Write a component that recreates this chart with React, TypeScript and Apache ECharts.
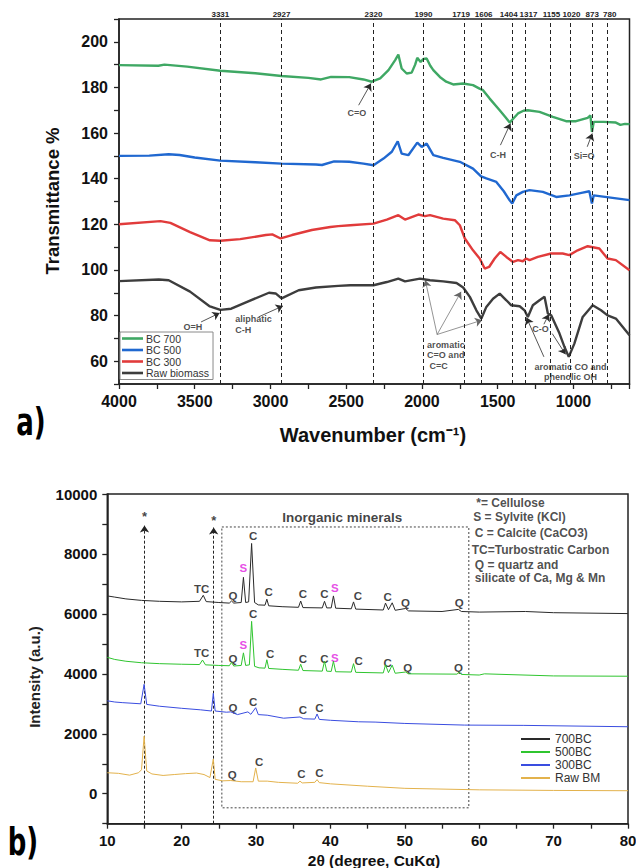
import React, { useEffect, useRef } from "react";
import * as echarts from "echarts";

const FONT = 'Arial, "Liberation Sans", Helvetica, sans-serif';
const NARROW = '"Liberation Sans Narrow", "DejaVu Sans Condensed", Arial, sans-serif';

// ---------- (a) FTIR data ----------
const bc700Wn = [4000, 3740, 3700, 3550, 3331, 3100, 2927, 2750, 2666, 2600, 2480, 2386, 2331, 2276, 2221, 2177, 2156, 2134, 2101, 2068, 2045, 2031, 2009, 1990, 1969, 1945, 1925, 1882, 1840, 1794, 1728, 1663, 1620, 1597, 1553, 1487, 1450, 1421, 1395, 1366, 1330, 1301, 1224, 1136, 1049, 983, 906, 888, 878, 866, 800, 720, 690, 660, 630];
const bc700T = [189.8, 189.5, 190, 189.1, 187.3, 186.2, 185.0, 184.2, 183.5, 184.6, 184.5, 183.5, 182.5, 184, 187.6, 192, 194.4, 188.3, 186.1, 186.5, 190, 193, 191.2, 192.5, 192.7, 189.5, 187.6, 184.6, 182.5, 181.3, 181.7, 181, 179.5, 178.8, 175.1, 170, 167, 164.6, 166.5, 168.6, 169.8, 170, 169.3, 167.1, 165.2, 165.2, 166.7, 167.8, 160.5, 164.9, 164.9, 164.6, 163.6, 164, 163.9];

const bc500Wn = [4000, 3800, 3672, 3600, 3500, 3331, 3100, 2927, 2700, 2660, 2580, 2480, 2386, 2320, 2254, 2199, 2160, 2134, 2090, 2031, 2002, 1969, 1925, 1860, 1750, 1663, 1610, 1575, 1509, 1460, 1421, 1404, 1377, 1334, 1290, 1202, 1114, 1027, 939, 895, 878, 866, 742, 630];
const bc500T = [150, 150.1, 150.7, 150.4, 149.3, 147.9, 147.2, 146.6, 146.2, 146, 147.6, 147.4, 146.6, 145.9, 148.8, 151.8, 156.4, 151, 150.3, 155.8, 153.9, 155.4, 150.3, 149.1, 147.4, 144.4, 141, 140.1, 138.6, 134.5, 130.5, 129.1, 132.7, 134.2, 135, 134.2, 132, 132.7, 133.9, 134.5, 129.1, 132.7, 131.6, 130.6];

const bc300Wn = [4000, 3726, 3661, 3531, 3400, 3331, 3200, 3031, 2988, 2933, 2858, 2727, 2605, 2553, 2473, 2320, 2232, 2156, 2112, 2024, 1980, 1947, 1860, 1783, 1750, 1717, 1663, 1619, 1586, 1557, 1520, 1483, 1443, 1399, 1366, 1334, 1312, 1290, 1235, 1147, 1071, 1027, 972, 906, 829, 775, 720, 630];
const bc300T = [120, 121.4, 120.6, 116.6, 113, 112.8, 113.5, 115.3, 115.6, 113.8, 115.3, 117.5, 118.8, 119.2, 119.6, 120.3, 122.1, 124, 122.1, 124.3, 123.6, 124, 122.5, 121.8, 119.6, 113.8, 108.6, 105, 100.6, 101.3, 105, 107.9, 105.7, 103.5, 104.3, 103.8, 105, 104.3, 105.7, 107.2, 107.2, 106.5, 108.6, 110.4, 109.4, 105, 104.3, 99.9];

const rawWn = [4000, 3737, 3672, 3531, 3400, 3331, 3259, 3162, 3010, 2966, 2927, 2814, 2700, 2553, 2473, 2320, 2232, 2156, 2112, 2013, 1947, 1860, 1772, 1728, 1684, 1641, 1608, 1575, 1531, 1487, 1443, 1410, 1355, 1323, 1301, 1268, 1224, 1191, 1169, 1147, 1092, 1059, 1031, 994, 939, 873, 818, 775, 720, 630];
const rawT = [95.1, 95.8, 95.5, 90.5, 84, 82.5, 83, 85.8, 90, 89.7, 87.5, 91.1, 92.3, 93.0, 93.3, 93.3, 94.7, 96.2, 95, 96.2, 95.5, 95, 94.3, 92.3, 88.2, 82.3, 78.7, 83.8, 87.4, 89.6, 86.7, 84.5, 84.1, 82.3, 79.4, 84.5, 86.7, 88.2, 80.9, 80.1, 72.1, 66.2, 61.9, 67.7, 79.4, 84.5, 82.3, 80.1, 78.7, 71.4];

const peakLines = [3331, 2927, 2320, 1990, 1719, 1606, 1404, 1317, 1155, 1020, 873, 780];
const peakLabelShift = [0, 0, 0, 0, -3.5, 2, -3.5, 3, 1.5, 1, -0.5, 3];

const topNoteText = ["C=O", "C-H", "Si=O", "O=H", "C-O", "aromatic CO and\nphenolic OH", "aliphatic\nC-H", "aromatic\nC=O and\n C=C"];
const topNoteWn = [2430, 1498, 930, 3512, 1217, 1019, 3233, 1966];
const topNoteT = [169, 150.6, 150, 75, 74.3, 55.3, 76, 62.6];
const topNoteAlign = ["center", "center", "center", "center", "center", "center", "left", "left"];

// arrows: [fromWn, fromT, toWn, toT]
const topArrows = [
  [3458, 77.2, 3336, 81.1],
  [3079, 79.4, 2918, 84.2],
  [2418, 172.2, 2337, 181.7],
  [1482, 154.7, 1416, 164.2],
  [909, 154, 876, 159.8],
  [1195, 76.2, 1162, 80.6],
  [1140, 72.1, 1052, 63],
  [1195, 61.9, 1310, 79.1],
];
const topGreyArrows = [
  [1900, 71.7, 1978, 95.5],
  [1900, 71.7, 1742, 90.4],
  [1900, 71.7, 1603, 78],
];

// ---------- (b) XRD data ----------
const bc700Tt = [10, 11, 12.5, 14.6, 17, 20, 22.4, 22.9, 23.3, 25, 26.4, 26.7, 27.0, 28.0, 28.3, 28.6, 29.0, 29.4, 29.8, 30.3, 31.2, 31.45, 31.7, 33.5, 35.7, 36.0, 36.3, 38.9, 39.2, 39.5, 40.1, 40.4, 40.7, 42.8, 43.1, 43.4, 47.1, 47.4, 47.8, 48.3, 48.7, 50.1, 50.5, 55, 57.2, 57.6, 60, 66.2, 70, 80];
const bc700I = [6600, 6560, 6500, 6450, 6420, 6400, 6420, 6620, 6410, 6380, 6360, 6430, 6360, 6380, 7220, 6380, 6400, 8350, 6380, 6300, 6290, 6490, 6270, 6240, 6220, 6430, 6210, 6200, 6420, 6200, 6200, 6600, 6190, 6170, 6400, 6160, 6130, 6360, 6140, 6370, 6120, 6180, 6100, 6080, 6150, 6080, 6060, 6080, 6040, 6010];

const bc500Tt = [10, 11, 12.5, 14.6, 17, 20, 22.4, 22.8, 23.2, 25, 26.4, 26.7, 27.0, 28.0, 28.3, 28.6, 29.1, 29.4, 29.8, 30.4, 31.2, 31.45, 31.7, 33.5, 35.7, 36.0, 36.3, 38.9, 39.2, 39.5, 40.1, 40.4, 40.7, 42.8, 43.1, 43.4, 47.1, 47.4, 47.8, 48.3, 48.7, 50.1, 50.5, 57.0, 57.3, 57.6, 60, 60.7, 70, 80];
const bc500I = [4550, 4480, 4420, 4370, 4340, 4320, 4310, 4460, 4300, 4280, 4270, 4380, 4260, 4280, 4700, 4280, 4300, 5750, 4250, 4200, 4190, 4470, 4180, 4150, 4120, 4320, 4110, 4090, 4420, 4090, 4080, 4420, 4070, 4060, 4340, 4050, 4030, 4300, 4040, 4290, 4020, 4060, 4000, 3990, 4050, 3980, 3960, 4000, 3930, 3920];

const bc300Tt = [10, 11, 12, 14.5, 14.95, 15.3, 17, 20, 22.5, 24.0, 24.25, 24.5, 26.0, 26.6, 27.5, 28.9, 29.3, 29.95, 30.3, 31.5, 33.7, 35.9, 36.4, 37.9, 38.2, 38.5, 40, 43.8, 46, 50, 58, 66, 80];
const bc300I = [3100, 3060, 3040, 3000, 3650, 2980, 2920, 2850, 2800, 2760, 3350, 2760, 2720, 2730, 2640, 2730, 2650, 2870, 2640, 2620, 2520, 2560, 2500, 2490, 2660, 2480, 2450, 2400, 2390, 2345, 2290, 2280, 2235];

const rawTt = [10, 11.5, 13, 14.2, 14.6, 14.95, 15.3, 16, 17.5, 19, 20.5, 22, 23, 23.8, 24.25, 24.5, 25.5, 26.6, 28, 29.6, 29.95, 30.3, 31.5, 33, 35.6, 35.9, 36.2, 37.9, 38.2, 38.5, 40, 45, 50, 60, 70, 80];
const rawI = [700, 680, 620, 700, 800, 1920, 760, 660, 610, 640, 670, 690, 640, 540, 1160, 480, 430, 440, 400, 400, 860, 420, 420, 380, 350, 420, 360, 380, 470, 370, 330, 250, 180, 130, 110, 100];

const xrdLabelText = ["TC", "Q", "S", "C", "C", "C", "C", "S", "C", "C", "Q", "Q",
  "TC", "Q", "S", "C", "C", "C", "C", "S", "C", "C", "Q", "Q",
  "Q", "C", "C", "C",
  "Q", "C", "C", "C"];
const xrdLabelTt = [22.7, 26.9, 28.3, 29.6, 31.7, 36.3, 39.2, 40.6, 43.7, 47.7, 50.1, 57.3,
  22.7, 26.9, 28.3, 29.6, 31.9, 36.3, 39.2, 40.6, 43.8, 47.7, 50.4, 57.2,
  26.9, 29.6, 36.3, 38.5,
  26.8, 30.4, 36.1, 38.5];
const xrdLabelI = [6824, 6590, 7535, 8600, 6724, 6680, 6680, 6880, 6590, 6570, 6370, 6350,
  4680, 4490, 4960, 5990, 4660, 4490, 4490, 4545, 4420, 4350, 4180, 4200,
  2870, 3070, 2790, 2870,
  620, 1070, 650, 680];

const keyText = ["*= Cellulose", "S = Sylvite (KCl)", "C = Calcite (CaCO3)", "TC=Turbostratic Carbon", "Q = quartz and", "silicate of Ca, Mg & Mn"];
const keyTt = [59.6, 59.2, 59.4, 59.0, 59.4, 59.4];
const keyI = [9690, 9222, 8688, 8131, 7631, 7187];

const starTt = [15, 24.3];
const starTopI = [8950, 8880];
const starLabelI = [9235, 9124];
const boxTt = [25.4, 58.6];
const boxI = [-470, 8900];

const tx = (w: number) => 4000 - w;

export default function App() {
  const ref = useRef<HTMLDivElement>(null);

  useEffect(() => {
    if (!ref.current) return;
    const chart = echarts.init(ref.current, undefined, { renderer: "svg" });

    const axisCommon = (fontSize: number) => ({
      axisLine: { show: true, onZero: false, lineStyle: { color: "#222", width: 1.5 } },
      axisTick: { show: true, inside: false, length: 5, lineStyle: { color: "#222", width: 1.3 } },
      splitLine: { show: false },
      axisLabel: {
        show: true,
        fontSize,
        fontWeight: "bold",
        fontFamily: FONT,
        color: "#111",
        showMinLabel: true,
        showMaxLabel: true,
        hideOverlap: false,
      },
    });

    const mkTop = (wn: number[], t: number[]) => wn.map((w, i) => [tx(w), t[i]]);
    const mkBot = (x: number[], y: number[]) => x.map((v, i) => [v, y[i]]);

    const topLine = (name: string, color: string, data: number[][], extra: any = {}) => ({
      type: "line",
      name,
      xAxisIndex: 0,
      yAxisIndex: 0,
      data,
      showSymbol: false,
      symbol: "none",
      lineStyle: { color, width: 2.4 },
      itemStyle: { color },
      silent: true,
      ...extra,
    });
    const botLine = (name: string, color: string, data: number[][]) => ({
      type: "line",
      name,
      xAxisIndex: 1,
      yAxisIndex: 1,
      data,
      showSymbol: false,
      symbol: "none",
      lineStyle: { color, width: 1 },
      itemStyle: { color },
      silent: true,
    });

    const option: any = {
      animation: false,
      backgroundColor: "#fff",
      textStyle: { fontFamily: FONT },
      grid: [
        { left: 119, top: 19, width: 510.5, height: 365, show: true, borderColor: "#222", borderWidth: 1.5, containLabel: false, outerBoundsMode: "none" },
        { left: 107.3, top: 494, width: 520.7, height: 329.7, show: true, borderColor: "#222", borderWidth: 1.5, containLabel: false, outerBoundsMode: "none" },
      ],
      xAxis: [
        {
          gridIndex: 0,
          type: "value",
          min: 0,
          max: 3370,
          interval: 250,
          ...axisCommon(16),
          axisLabel: {
            ...axisCommon(16).axisLabel,
            margin: 9,
            formatter: (v: number) => (v % 500 === 0 && v <= 3000 ? String(4000 - v) : ""),
          },
        },
        {
          gridIndex: 1,
          type: "value",
          min: 10,
          max: 80,
          interval: 5,
          ...axisCommon(15),
          axisLabel: {
            ...axisCommon(15).axisLabel,
            margin: 9,
            formatter: (v: number) => (v % 10 === 0 ? String(v) : ""),
          },
        },
      ],
      yAxis: [
        {
          gridIndex: 0,
          type: "value",
          min: 50,
          max: 210,
          interval: 10,
          ...axisCommon(16),
          axisLabel: {
            ...axisCommon(16).axisLabel,
            margin: 11,
            formatter: (v: number) => (v % 20 === 0 && v >= 60 && v <= 200 ? String(v) : ""),
          },
        },
        {
          gridIndex: 1,
          type: "value",
          min: -1000,
          max: 10000,
          interval: 1000,
          ...axisCommon(15),
          axisLabel: {
            ...axisCommon(15).axisLabel,
            margin: 10,
            formatter: (v: number) => (v >= 0 && v % 2000 === 0 ? String(v) : ""),
          },
        },
      ],
      legend: [
        {
          orient: "vertical",
          left: 120,
          top: 332,
          data: ["BC 700", "BC 500", "BC 300", "Raw biomass"],
          selectedMode: false,
          icon: "rect",
          itemWidth: 21,
          itemHeight: 2.6,
          itemGap: 0.5,
          padding: [1, 4, 1, 2],
          borderColor: "#8a8a8a",
          borderWidth: 1,
          textStyle: { fontSize: 10.5, fontFamily: FONT, color: "#333", padding: [0, 0, 0, -2], lineHeight: 10.5 },
        },
        {
          orient: "vertical",
          left: 521,
          top: 733,
          data: ["700BC", "500BC", "300BC", "Raw BM"],
          selectedMode: false,
          icon: "rect",
          itemWidth: 29,
          itemHeight: 2,
          itemGap: 1,
          padding: 0,
          textStyle: { fontSize: 12, fontFamily: FONT, color: "#333", lineHeight: 12 },
        },
      ],
      series: [
        topLine("Raw biomass", "#3d3d3d", mkTop(rawWn, rawT), {
          markLine: {
            silent: true,
            symbol: ["none", "none"],
            animation: false,
            lineStyle: { color: "#222", width: 1, type: [4, 3] },
            label: {
              show: true,
              position: "end",
              distance: 1,
              formatter: "{b}",
              fontSize: 8,
              fontWeight: "bold",
              fontFamily: FONT,
              color: "#222",
            },
            emphasis: { disabled: true },
            data: peakLines.map((p, i) => ({
              name: String(p),
              xAxis: tx(p),
              label: { offset: [peakLabelShift[i], 0] },
            })),
          },
        }),
        topLine("BC 300", "#e13b3b", mkTop(bc300Wn, bc300T)),
        topLine("BC 500", "#2068d0", mkTop(bc500Wn, bc500T)),
        topLine("BC 700", "#3fa864", mkTop(bc700Wn, bc700T)),
        {
          type: "lines",
          name: "topArrows",
          coordinateSystem: "cartesian2d",
          xAxisIndex: 0,
          yAxisIndex: 0,
          silent: true,
          symbol: ["none", "arrow"],
          symbolSize: 7,
          lineStyle: { color: "#2a2a2a", width: 0.8, opacity: 1, curveness: 0 },
          data: [
            ...topArrows.map((a) => ({ coords: [[tx(a[0]), a[1]], [tx(a[2]), a[3]]] })),
            ...topGreyArrows.map((a) => ({
              coords: [[tx(a[0]), a[1]], [tx(a[2]), a[3]]],
              lineStyle: { color: "#666", width: 0.7 },
            })),
          ],
        },
        {
          type: "scatter",
          name: "topNotes",
          xAxisIndex: 0,
          yAxisIndex: 0,
          silent: true,
          symbolSize: 1,
          itemStyle: { color: "rgba(0,0,0,0)" },
          label: {
            show: true,
            position: "inside",
            formatter: "{b}",
            fontSize: 9,
            fontWeight: "bold",
            fontFamily: FONT,
            color: "#222",
            lineHeight: 10.5,
            verticalAlign: "middle",
          },
          data: topNoteText.map((t, i) => ({
            name: t,
            value: [tx(topNoteWn[i]), topNoteT[i]],
            label: { align: topNoteAlign[i] },
          })),
        },
        botLine("Raw BM", "#e3b24c", mkBot(rawTt, rawI)),
        botLine("300BC", "#3a4de0", mkBot(bc300Tt, bc300I)),
        botLine("500BC", "#2fc52f", mkBot(bc500Tt, bc500I)),
        botLine("700BC", "#2a2a2a", mkBot(bc700Tt, bc700I)),
        {
          type: "lines",
          name: "botArrows",
          coordinateSystem: "cartesian2d",
          xAxisIndex: 1,
          yAxisIndex: 1,
          silent: true,
          symbol: ["none", "arrow"],
          symbolSize: 7,
          lineStyle: { color: "#222", width: 1, opacity: 1, type: [3, 2] },
          data: starTt.map((t, i) => ({ coords: [[t, -1000], [t, starTopI[i]]] })),
        },
        {
          type: "lines",
          name: "box",
          coordinateSystem: "cartesian2d",
          xAxisIndex: 1,
          yAxisIndex: 1,
          silent: true,
          polyline: true,
          symbol: ["none", "none"],
          lineStyle: { color: "#444", width: 1, opacity: 1, type: [2, 2] },
          data: [
            {
              coords: [
                [boxTt[0], boxI[1]],
                [boxTt[1], boxI[1]],
                [boxTt[1], boxI[0]],
                [boxTt[0], boxI[0]],
                [boxTt[0], boxI[1]],
              ],
            },
          ],
        },
        {
          type: "scatter",
          name: "xrdLabels",
          xAxisIndex: 1,
          yAxisIndex: 1,
          silent: true,
          symbolSize: 1,
          itemStyle: { color: "rgba(0,0,0,0)" },
          label: {
            show: true,
            position: "inside",
            formatter: "{b}",
            fontSize: 11.5,
            fontWeight: "bold",
            fontFamily: FONT,
            color: "#111",
            align: "center",
            verticalAlign: "middle",
          },
          data: [
            ...xrdLabelText.map((t, i) => ({
              name: t,
              value: [xrdLabelTt[i], xrdLabelI[i]],
              label: t === "S" ? { color: "#e020e0" } : {},
            })),
            ...starTt.map((t, i) => ({
              name: "*",
              value: [t, starLabelI[i]],
              label: { fontSize: 13 },
            })),
            {
              name: "Inorganic minerals",
              value: [41.6, 9230],
              label: { fontSize: 13.5 },
            },
            ...keyText.map((t, i) => ({
              name: t,
              value: [keyTt[i], keyI[i]],
              label: { align: "left", fontSize: 12, color: "#222" },
            })),
          ],
        },
      ],
      graphic: [
        {
          type: "text",
          x: 52,
          y: 201,
          rotation: Math.PI / 2,
          style: { text: "Transmittance %", fontSize: 18.5, fontWeight: "bold", fontFamily: FONT, fill: "#111", align: "center", verticalAlign: "middle" },
        },
        {
          type: "text",
          x: 373,
          y: 435,
          style: { text: "Wavenumber (cm\u207B\u00B9)", fontSize: 20, fontWeight: "bold", fontFamily: FONT, fill: "#111", align: "center", verticalAlign: "middle" },
        },
        {
          type: "text",
          x: 31,
          y: 422,
          scaleX: 0.78,
          style: { text: "a)", fontSize: 37, fontWeight: "bold", fontFamily: NARROW, fill: "#000", align: "center", verticalAlign: "middle" },
        },
        {
          type: "text",
          x: 34.5,
          y: 677,
          rotation: Math.PI / 2,
          style: { text: "Intensity (a.u.)", fontSize: 15, fontWeight: "bold", fontFamily: FONT, fill: "#222", align: "center", verticalAlign: "middle" },
        },
        {
          type: "text",
          x: 374,
          y: 860,
          style: { text: "2\u03B8 (degree, CuK\u03B1)", fontSize: 15.5, fontWeight: "bold", fontFamily: FONT, fill: "#111", align: "center", verticalAlign: "middle" },
        },
        {
          type: "text",
          x: 23,
          y: 842,
          scaleX: 0.78,
          style: { text: "b)", fontSize: 37, fontWeight: "bold", fontFamily: NARROW, fill: "#000", align: "center", verticalAlign: "middle" },
        },
      ],
    };

    chart.setOption(option);
    return () => chart.dispose();
  }, []);

  return (
    <div
      ref={ref}
      style={{ position: "absolute", left: 0, top: 0, width: 636, height: 868, background: "#fff" }}
    />
  );
}
